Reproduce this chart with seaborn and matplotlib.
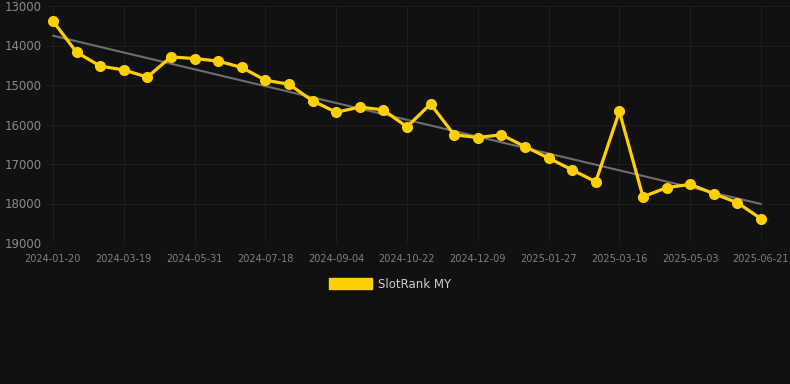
import numpy as np
import pandas as pd
import seaborn as sns
import matplotlib.pyplot as plt
from matplotlib.patches import Patch

dates = ['2024-01-20', '2024-02-09', '2024-02-29', '2024-03-19', '2024-04-12', '2024-05-07',
         '2024-05-31', '2024-06-16', '2024-07-02', '2024-07-18', '2024-08-03', '2024-08-19',
         '2024-09-04', '2024-09-20', '2024-10-06', '2024-10-22', '2024-11-07', '2024-11-23',
         '2024-12-09', '2024-12-25', '2025-01-10', '2025-01-27', '2025-02-12', '2025-02-28',
         '2025-03-16', '2025-04-01', '2025-04-17', '2025-05-03', '2025-05-19', '2025-06-05',
         '2025-06-21']
rank = [13380, 14170, 14520, 14620, 14800, 14290, 14330, 14395, 14555, 14880, 14980, 15400,
        15690, 15560, 15630, 16060, 15480, 16260, 16330, 16260, 16560, 16850, 17150, 17450,
        15670, 17830, 17600, 17515, 17750, 17980, 18385]
yticks = [13000, 14000, 15000, 16000, 17000, 18000, 19000]

bg = '#111111'
gold = '#FFD000'

df = pd.DataFrame({'pos': np.arange(len(dates)), 'date': dates, 'rank': rank})
coef = np.polyfit(df['pos'], df['rank'], 1)
df['trend'] = np.polyval(coef, df['pos'])

sns.set_style('dark')
plt.rcParams['font.family'] = ['DejaVu Sans']
fig = plt.figure(figsize=(7.9, 3.84), dpi=100, facecolor=bg)
ax = fig.add_axes([47 / 790, 1 - 243 / 384, 1 - 47 / 790, 237 / 384])
ax.set_facecolor(bg)

sns.lineplot(data=df, x='pos', y='trend', color='#6e6e6e', linewidth=1.5, ax=ax)
sns.lineplot(data=df, x='pos', y='rank', color=gold, linewidth=2.3, marker='o',
             markersize=8, markeredgewidth=0, ax=ax)

ax.set_ylim(19000, 13000)
ax.set_xlim(-0.25, len(dates) - 1 + 1.23)
ax.set_yticks(yticks)
ax.set_yticklabels([str(v) for v in yticks])
tick_pos = list(range(0, len(dates), 3))
ax.set_xticks(tick_pos)
ax.set_xticklabels([dates[i] for i in tick_pos])
ax.grid(True, color='#1d1d1d', linewidth=0.8)
ax.tick_params(axis='y', colors='#8a8a8a', labelsize=8.5, length=0, pad=4)
ax.tick_params(axis='x', colors='#222222', labelcolor='#808080', labelsize=7, length=5, pad=3)
ax.set_xlabel('')
ax.set_ylabel('')
for s in ax.spines.values():
    s.set_visible(False)

fig.legend(handles=[Patch(facecolor=gold, edgecolor=gold, label='SlotRank MY')],
           loc='center', bbox_to_anchor=(390 / 790, 1 - 284 / 384), frameon=False,
           labelcolor='#cccccc', fontsize=8.5, handlelength=3.6, handleheight=1.0,
           handletextpad=0.5)

fig.savefig('out.png', dpi=100, facecolor=bg)
